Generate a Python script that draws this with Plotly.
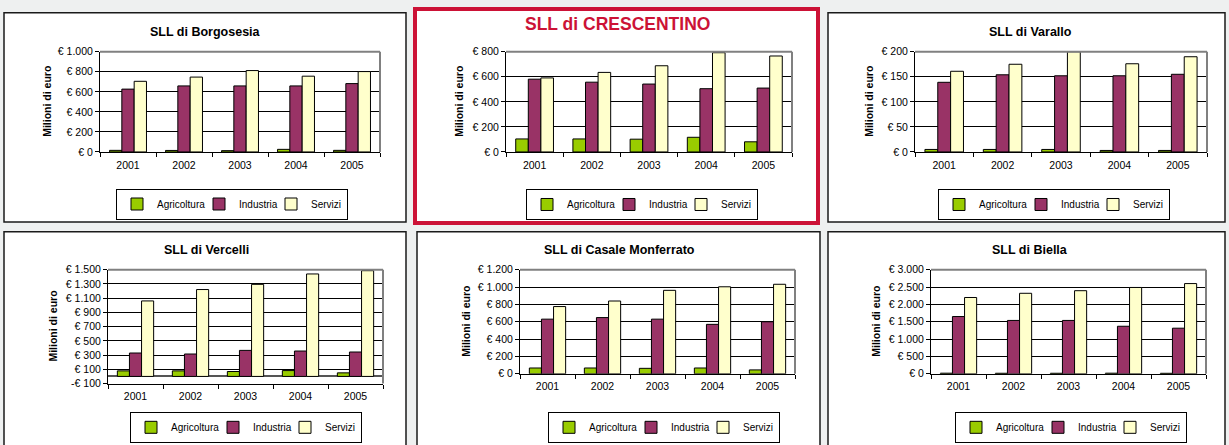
import plotly.graph_objects as go

W, H = 1229, 445

years = ["2001", "2002", "2003", "2004", "2005"]
series_names = ["Agricoltura", "Industria", "Servizi"]
series_colors = ["#99cc00", "#993366", "#ffffcc"]
# legend entry widths (px) to keep the legend compact
legend_entry_widths = [37, 27, 31]

# --- values (Milioni di euro) ---
borgosesia_agri = [16, 15, 13, 26, 16]
borgosesia_ind = [627, 659, 659, 659, 682]
borgosesia_serv = [705, 747, 812, 756, 802]

crescentino_agri = [104, 104, 102, 117, 81]
crescentino_ind = [581, 557, 542, 505, 510]
crescentino_serv = [591, 635, 688, 792, 766]

varallo_agri = [5, 5, 5, 3, 3]
varallo_ind = [139, 154, 152, 152, 155]
varallo_serv = [161, 175, 200, 176, 190]

vercelli_agri = [78, 78, 69, 82, 50]
vercelli_ind = [329, 315, 366, 357, 343]
vercelli_serv = [1061, 1221, 1294, 1440, 1486]

casale_agri = [67, 67, 63, 67, 45]
casale_ind = [630, 648, 630, 570, 600]
casale_serv = [775, 839, 962, 1003, 1032]

biella_agri = [18, 16, 16, 18, 15]
biella_ind = [1650, 1538, 1538, 1370, 1314]
biella_serv = [2199, 2320, 2395, 2488, 2600]

# --- titles ---
titles = ["SLL di Borgosesia", "SLL di CRESCENTINO", "SLL di Varallo",
          "SLL di Vercelli", "SLL di Casale Monferrato", "SLL di Biella"]
y_title = "Milioni di euro"

# --- y tick values / labels ---
borgosesia_tickvals = [0, 200, 400, 600, 800, 1000]
borgosesia_ticktext = ["€ 0", "€ 200", "€ 400", "€ 600", "€ 800", "€ 1.000"]
crescentino_tickvals = [0, 200, 400, 600, 800]
crescentino_ticktext = ["€ 0", "€ 200", "€ 400", "€ 600", "€ 800"]
varallo_tickvals = [0, 50, 100, 150, 200]
varallo_ticktext = ["€ 0", "€ 50", "€ 100", "€ 150", "€ 200"]
vercelli_tickvals = [-100, 100, 300, 500, 700, 900, 1100, 1300, 1500]
vercelli_ticktext = ["-€ 100", "€ 100", "€ 300", "€ 500", "€ 700", "€ 900",
                     "€ 1.100", "€ 1.300", "€ 1.500"]
casale_tickvals = [0, 200, 400, 600, 800, 1000, 1200]
casale_ticktext = ["€ 0", "€ 200", "€ 400", "€ 600", "€ 800", "€ 1.000", "€ 1.200"]
biella_tickvals = [0, 500, 1000, 1500, 2000, 2500, 3000]
biella_ticktext = ["€ 0", "€ 500", "€ 1.000", "€ 1.500", "€ 2.000", "€ 2.500", "€ 3.000"]

panels = [
    dict(data=[borgosesia_agri, borgosesia_ind, borgosesia_serv],
         tv=borgosesia_tickvals, tt=borgosesia_ticktext, rng=[0, 1000],
         plot=(100, 380, 47, 150), frame=(4, 406, 7, 222),
         title=(205, 28), legend=(232, 203.5), ytitle_x=47),
    dict(data=[crescentino_agri, crescentino_ind, crescentino_serv],
         tv=crescentino_tickvals, tt=crescentino_ticktext, rng=[0, 800],
         plot=(506, 792, 47, 150), frame=(415, 818, 3, 223),
         title=(617, 19), legend=(642, 204), ytitle_x=459),
    dict(data=[varallo_agri, varallo_ind, varallo_serv],
         tv=varallo_tickvals, tt=varallo_ticktext, rng=[0, 200],
         plot=(915, 1207, 47, 150), frame=(828, 1225, 7, 222),
         title=(1030, 28), legend=(1054, 204), ytitle_x=869),
    dict(data=[vercelli_agri, vercelli_ind, vercelli_serv],
         tv=vercelli_tickvals, tt=vercelli_ticktext, rng=[-100, 1500],
         plot=(108, 383, 271, 388), frame=(4, 406, 232, 452),
         title=(206, 252), legend=(246, 433), ytitle_x=53),
    dict(data=[casale_agri, casale_ind, casale_serv],
         tv=casale_tickvals, tt=casale_ticktext, rng=[0, 1200],
         plot=(520, 795, 271, 378), frame=(417, 820, 232, 452),
         title=(619, 252), legend=(664, 433), ytitle_x=466),
    dict(data=[biella_agri, biella_ind, biella_serv],
         tv=biella_tickvals, tt=biella_ticktext, rng=[0, 3000],
         plot=(931, 1206, 271, 378), frame=(828, 1225, 232, 452),
         title=(1030, 252), legend=(1071, 433), ytitle_x=876),
]

FONT = "Liberation Sans, Arial, sans-serif"
RED = "#cc1236"


def fx(x):
    return x / W


def fy(y):
    return 1 - y / H


fig = go.Figure()
shapes = []
annotations = []
layout = {}

for i, p in enumerate(panels):
    n = i + 1
    sfx = "" if n == 1 else str(n)
    xa, ya = "x" + sfx, "y" + sfx
    leg = "legend" + sfx
    for s in range(3):
        fig.add_trace(go.Bar(
            x=years, y=p["data"][s], name=series_names[s],
            marker=dict(color=series_colors[s], line=dict(color="#000000", width=1)),
            xaxis=xa, yaxis=ya, legend=leg, showlegend=True,
            legendwidth=legend_entry_widths[s],
        ))
    x0, x1, y0, y1 = p["plot"]
    layout["xaxis" + sfx] = dict(
        domain=[fx(x0), fx(x1)], anchor=ya, type="category",
        showline=True, linecolor="#000000", linewidth=1,
        ticks="outside", tickson="boundaries", ticklen=4, tickcolor="#000000",
        ticklabelstandoff=3,
        tickfont=dict(family=FONT, size=10.5, color="#000000"),
        showgrid=False, zeroline=False, fixedrange=True,
    )
    layout["yaxis" + sfx] = dict(
        domain=[fy(y1), fy(y0)], anchor=xa, range=p["rng"],
        tickvals=p["tv"], ticktext=p["tt"],
        showline=True, linecolor="#000000", linewidth=1,
        ticks="outside", ticklen=4, tickcolor="#000000",
        tickfont=dict(family=FONT, size=10.5, color="#000000"),
        showgrid=True, gridcolor="#000000", gridwidth=1,
        zeroline=(p["rng"][0] < 0), zerolinecolor="#555555", zerolinewidth=2,
        fixedrange=True,
    )
    layout[leg] = dict(
        orientation="h", x=fx(p["legend"][0]), y=fy(p["legend"][1]),
        xanchor="center", yanchor="middle",
        bgcolor="#ffffff", bordercolor="#000000", borderwidth=1,
        font=dict(family=FONT, size=10, color="#000000"),
        itemwidth=30, itemclick=False, itemdoubleclick=False,
    )
    # panel frame
    fx0, fx1, fy0, fy1 = p["frame"]
    if n == 2:
        shapes.append(dict(type="rect", xref="paper", yref="paper",
                           x0=fx(fx0), x1=fx(fx1), y0=fy(fy1), y1=fy(fy0),
                           fillcolor="#ffffff", line=dict(color=RED, width=4),
                           layer="below"))
    else:
        shapes.append(dict(type="rect", xref="paper", yref="paper",
                           x0=fx(fx0), x1=fx(fx1), y0=fy(fy1), y1=fy(fy0),
                           fillcolor="#ffffff", line=dict(color="#1a1a1a", width=1.5),
                           layer="below"))
    # depth edges of plot wall (top and right)
    shapes.append(dict(type="line", xref=xa + " domain", yref=ya + " domain",
                       x0=0, x1=1, y0=1, y1=1, line=dict(color="#808080", width=2)))
    shapes.append(dict(type="line", xref=xa + " domain", yref=ya + " domain",
                       x0=1, x1=1, y0=0, y1=1, line=dict(color="#808080", width=2)))
    # title
    if n == 2:
        annotations.append(dict(text="<b>" + titles[i] + "</b>", xref="paper", yref="paper",
                                x=fx(p["title"][0]), y=fy(p["title"][1]),
                                xanchor="center", yanchor="middle", showarrow=False,
                                font=dict(family=FONT, size=17.5, color=RED)))
    else:
        annotations.append(dict(text="<b>" + titles[i] + "</b>", xref="paper", yref="paper",
                                x=fx(p["title"][0]), y=fy(p["title"][1] - 1.5),
                                xanchor="center", yanchor="middle", showarrow=False,
                                font=dict(family=FONT, size=12.5, color="#000000")))
    # y-axis title
    annotations.append(dict(text="<b>" + y_title + "</b>", xref="paper", yref="paper",
                            x=fx(p["ytitle_x"]), y=fy((y0 + y1) / 2),
                            xanchor="center", yanchor="middle", showarrow=False,
                            textangle=-90,
                            font=dict(family=FONT, size=10.5, color="#000000")))

fig.update_layout(
    width=W, height=H, autosize=False,
    margin=dict(l=0, r=0, t=0, b=0),
    paper_bgcolor="#eef0f0", plot_bgcolor="#c0c0c0",
    barmode="group", bargap=0.34, bargroupgap=0,
    shapes=shapes, annotations=annotations,
    font=dict(family=FONT, size=10, color="#000000"),
    **layout,
)

fig.write_html("out.html",
               config={"displayModeBar": False},
               post_script="document.body.style.margin='0';document.body.style.background='#eef0f0';")
